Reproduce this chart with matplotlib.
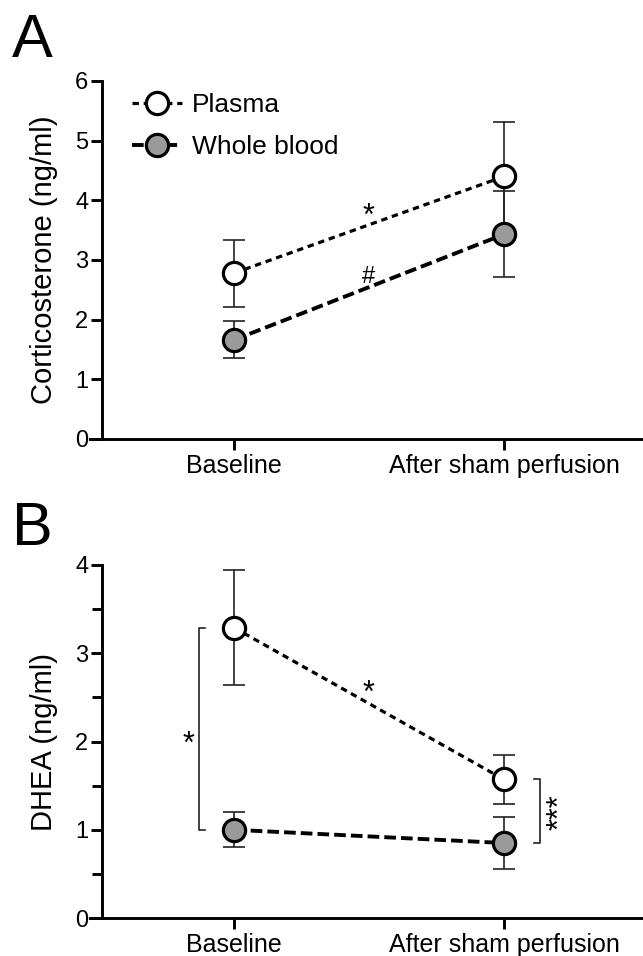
import numpy as np
import matplotlib
matplotlib.use("Agg")
import matplotlib.pyplot as plt
from matplotlib.ticker import MultipleLocator

plt.rcParams['font.family'] = ['Liberation Sans', 'DejaVu Sans']

# data (mean +/- error)
groups = ['Baseline', 'After sham perfusion']
x = np.array([0, 1])

cort_plasma = [2.78, 4.40]
cort_plasma_err = [0.56, 0.91]
cort_blood = [1.66, 3.43]
cort_blood_err = [0.31, 0.72]

dhea_plasma = [3.29, 1.57]
dhea_plasma_err = [0.65, 0.28]
dhea_blood = [1.00, 0.85]
dhea_blood_err = [0.20, 0.29]

grey = '#9a9a9a'
FS = 18

fig = plt.figure(figsize=(6.43, 9.56), dpi=100)
axA = fig.add_axes([0.1392, 0.5408, 0.8588, 0.3745])
axB = fig.add_axes([0.1392, 0.0397, 0.8588, 0.3693])


def draw(ax, plasma, plasma_err, blood, blood_err, ymax):
    for m, e in [(plasma, plasma_err), (blood, blood_err)]:
        ax.errorbar(x, m, yerr=e, fmt='none', ecolor='#222222', elinewidth=1.2,
                    capsize=8, capthick=1.2, zorder=2)
    ax.plot(x, plasma, color='black', lw=2.3, dashes=(2, 1.5), marker='o', ms=16,
            mfc='white', mec='black', mew=2.3, zorder=3, label='Plasma')
    ax.plot(x, blood, color='black', lw=2.8, dashes=(3.0, 1.3), marker='o', ms=16,
            mfc=grey, mec='black', mew=2.3, zorder=3, label='Whole blood')
    ax.set_xlim(-0.535, 1.51)
    ax.set_ylim(0, ymax)
    ax.spines['left'].set_position(('data', -0.49))
    ax.spines['left'].set_bounds(0, ymax)
    for s in ['top', 'right']:
        ax.spines[s].set_visible(False)
    for s in ['left', 'bottom']:
        ax.spines[s].set_linewidth(2.1)
    ax.set_xticks(x)
    ax.set_xticklabels(groups, fontsize=FS)
    ax.tick_params(axis='both', direction='out', length=8, width=2.1)
    ax.tick_params(axis='y', pad=1.5, labelsize=17)
    ax.tick_params(axis='x', pad=3, labelsize=FS)
    ax.yaxis.set_major_locator(MultipleLocator(1))


draw(axA, cort_plasma, cort_plasma_err, cort_blood, cort_blood_err, 6)
draw(axB, dhea_plasma, dhea_plasma_err, dhea_blood, dhea_blood_err, 4)
axB.yaxis.set_minor_locator(MultipleLocator(0.5))
axB.tick_params(axis='y', which='minor', direction='out', length=7, width=2.1)

axA.set_ylabel('Corticosterone (ng/ml)', fontsize=21)
axB.set_ylabel('DHEA (ng/ml)', fontsize=21)
axA.yaxis.set_label_coords(-0.057, 0.5)
axB.yaxis.set_label_coords(-0.057, 0.5)

axA.legend(loc='upper left', bbox_to_anchor=(0.077, 0.967), frameon=False,
           fontsize=19, handlelength=1.9, handletextpad=0.38, labelspacing=0.7,
           borderpad=0, borderaxespad=0)

# significance marks
axA.text(0.5, 3.58, '*', fontsize=22, ha='center', va='baseline')
axA.text(0.5, 2.62, '#', fontsize=17, ha='center', va='baseline')
axB.text(0.5, 2.45, '*', fontsize=22, ha='center', va='baseline')

# brackets in panel B
bl = -0.131
axB.plot([bl + 0.023, bl, bl, bl + 0.023],
         [dhea_plasma[0], dhea_plasma[0], dhea_blood[0], dhea_blood[0]],
         color='#222222', lw=1.2, clip_on=False)
axB.text(-0.168, 1.87, '*', fontsize=22, ha='center', va='baseline')
br = 1.133
axB.plot([br - 0.022, br, br, br - 0.022],
         [dhea_plasma[1], dhea_plasma[1], dhea_blood[1], dhea_blood[1]],
         color='#222222', lw=1.2, clip_on=False)
axB.text(1.237, 1.2, '***', fontsize=22, rotation=90, rotation_mode='anchor',
         ha='center', va='baseline')

fig.text(0.018, 0.940, 'A', fontsize=44, ha='left', va='baseline')
fig.text(0.018, 0.430, 'B', fontsize=44, ha='left', va='baseline')

fig.savefig('out.png', dpi=100)
